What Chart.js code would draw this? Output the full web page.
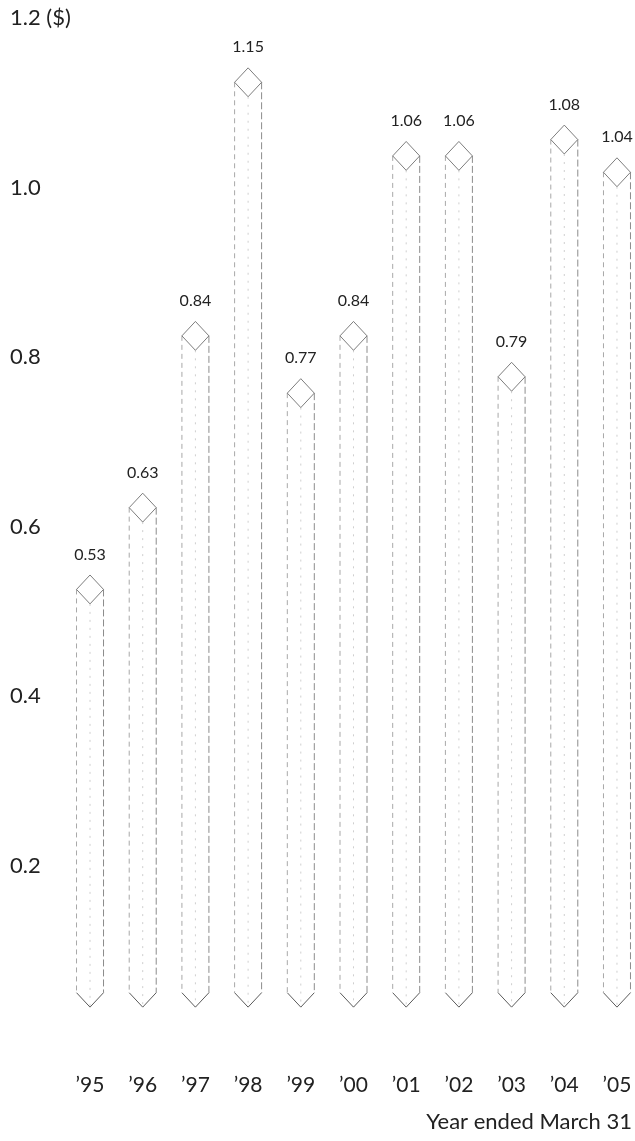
<!DOCTYPE html>
<html>
<head>
<meta charset="utf-8">
<script src="https://cdn.jsdelivr.net/npm/chart.js@4/dist/chart.umd.min.js"></script>
<style>
  html, body { margin: 0; padding: 0; background: #fff; }
  #wrap { width: 635px; height: 1141px; }
</style>
</head>
<body>
<div id="wrap"><canvas id="eps"></canvas></div>
<script>
// per share amounts, year ended March 31
const years = ['\u201995', '\u201996', '\u201997', '\u201998', '\u201999', '\u201900', '\u201901', '\u201902', '\u201903', '\u201904', '\u201905'];
const values = [0.53, 0.63, 0.84, 1.15, 0.77, 0.84, 1.06, 1.06, 0.79, 1.08, 1.04];
const valueLabels = ['0.53', '0.63', '0.84', '1.15', '0.77', '0.84', '1.06', '1.06', '0.79', '1.08', '1.04'];
const yTicks = [0.2, 0.4, 0.6, 0.8, 1.0, 1.2];

const FONT = 'Lato, "Open Sans", sans-serif';

// draws each bar as a faint prism: diamond top, dotted sides, V-shaped foot
const prismPlugin = {
	id: 'prism',
	afterDatasetsDraw(chart) {
		const ctx = chart.ctx;
		const meta = chart.getDatasetMeta(0);
		meta.data.forEach((bar, i) => {
			const {x, y, base, width} = bar.getProps(['x', 'y', 'base', 'width'], true);
			const hw = width / 2;
			const dh = hw * 1.07;
			ctx.save();

			// sides
			ctx.lineWidth = 1;
			ctx.strokeStyle = '#a8a8a8';
			ctx.setLineDash([5, 4]);
			ctx.beginPath();
			ctx.moveTo(x - hw, y); ctx.lineTo(x - hw, base);
			ctx.stroke();
			ctx.strokeStyle = '#8c8c8c';
			ctx.setLineDash([7, 3]);
			ctx.beginPath();
			ctx.moveTo(x + hw, y); ctx.lineTo(x + hw, base);
			ctx.stroke();

			// faint centre edge
			ctx.strokeStyle = '#cfcfcf';
			ctx.setLineDash([2, 6]);
			ctx.beginPath();
			ctx.moveTo(x, y + dh); ctx.lineTo(x, base + dh);
			ctx.stroke();

			// diamond top
			ctx.setLineDash([]);
			ctx.strokeStyle = '#6e6e6e';
			ctx.lineWidth = 0.9;
			ctx.beginPath();
			ctx.moveTo(x, y - dh);
			ctx.lineTo(x + hw, y);
			ctx.lineTo(x, y + dh);
			ctx.lineTo(x - hw, y);
			ctx.closePath();
			ctx.stroke();

			// V foot
			ctx.strokeStyle = '#5a5a5a';
			ctx.lineWidth = 1;
			ctx.beginPath();
			ctx.moveTo(x - hw, base);
			ctx.lineTo(x, base + dh);
			ctx.lineTo(x + hw, base);
			ctx.stroke();

			// value label
			ctx.fillStyle = '#222';
			ctx.font = '16px ' + FONT;
			ctx.textAlign = 'center';
			ctx.textBaseline = 'middle';
			ctx.fillText(valueLabels[i], x, y - 35);
			ctx.restore();
		});
	}
};

const data = {
	datasets: [{
		data: years.map((yr, i) => ({x: i, y: values[i]})),
		yAxisID: 'yBar',
		backgroundColor: 'rgba(0,0,0,0)',
		borderColor: 'rgba(0,0,0,0)',
		borderWidth: 0,
		barThickness: 27,
		base: 0.037
	}]
};

const config = {
	type: 'bar',
	data,
	options: {
		responsive: true,
		maintainAspectRatio: false,
		animation: false,
		layout: { padding: { left: 10, right: 3, top: 18, bottom: 6 } },
		plugins: {
			legend: { display: false },
			tooltip: { enabled: false }
		},
		scales: {
			x: {
				type: 'linear',
				min: -0.285,
				max: 10.285,
				bounds: 'data',
				offset: false,
				// tick marks hidden, their length only pushes labels down
				grid: { display: false, drawTicks: true, tickLength: 38, offset: false },
				border: { display: false },
				afterBuildTicks: (scale) => { scale.ticks = years.map((yr, i) => ({value: i})); },
				afterFit: (scale) => { scale.height = 100; },
				ticks: {
					autoSkip: false,
					maxRotation: 0,
					padding: 0,
					color: '#222',
					font: { family: FONT, size: 21 },
					callback: (v, i) => years[i]
				},
				title: {
					display: true,
					text: 'Year ended March 31',
					align: 'end',
					color: '#222',
					font: { family: FONT, size: 22 },
					padding: { top: 12, bottom: 0 }
				}
			},
			y: {
				min: 0,
				max: 1.2,
				grid: { display: false, drawTicks: false },
				border: { display: false },
				afterFit: (scale) => { scale.width = 65; },
				afterBuildTicks: (scale) => { scale.ticks = yTicks.map(v => ({value: v})); },
				ticks: {
					crossAlign: 'far',
					padding: 0,
					color: '#222',
					font: { family: FONT, size: 22 },
					callback: (v) => v === 1.2 ? '1.2 ($)' : v.toFixed(1)
				}
			},
			yBar: {
				display: false,
				min: -0.0147,
				max: 1.2286
			}
		}
	},
	plugins: [prismPlugin]
};

new Chart(document.getElementById('eps'), config);
</script>
</body>
</html>
